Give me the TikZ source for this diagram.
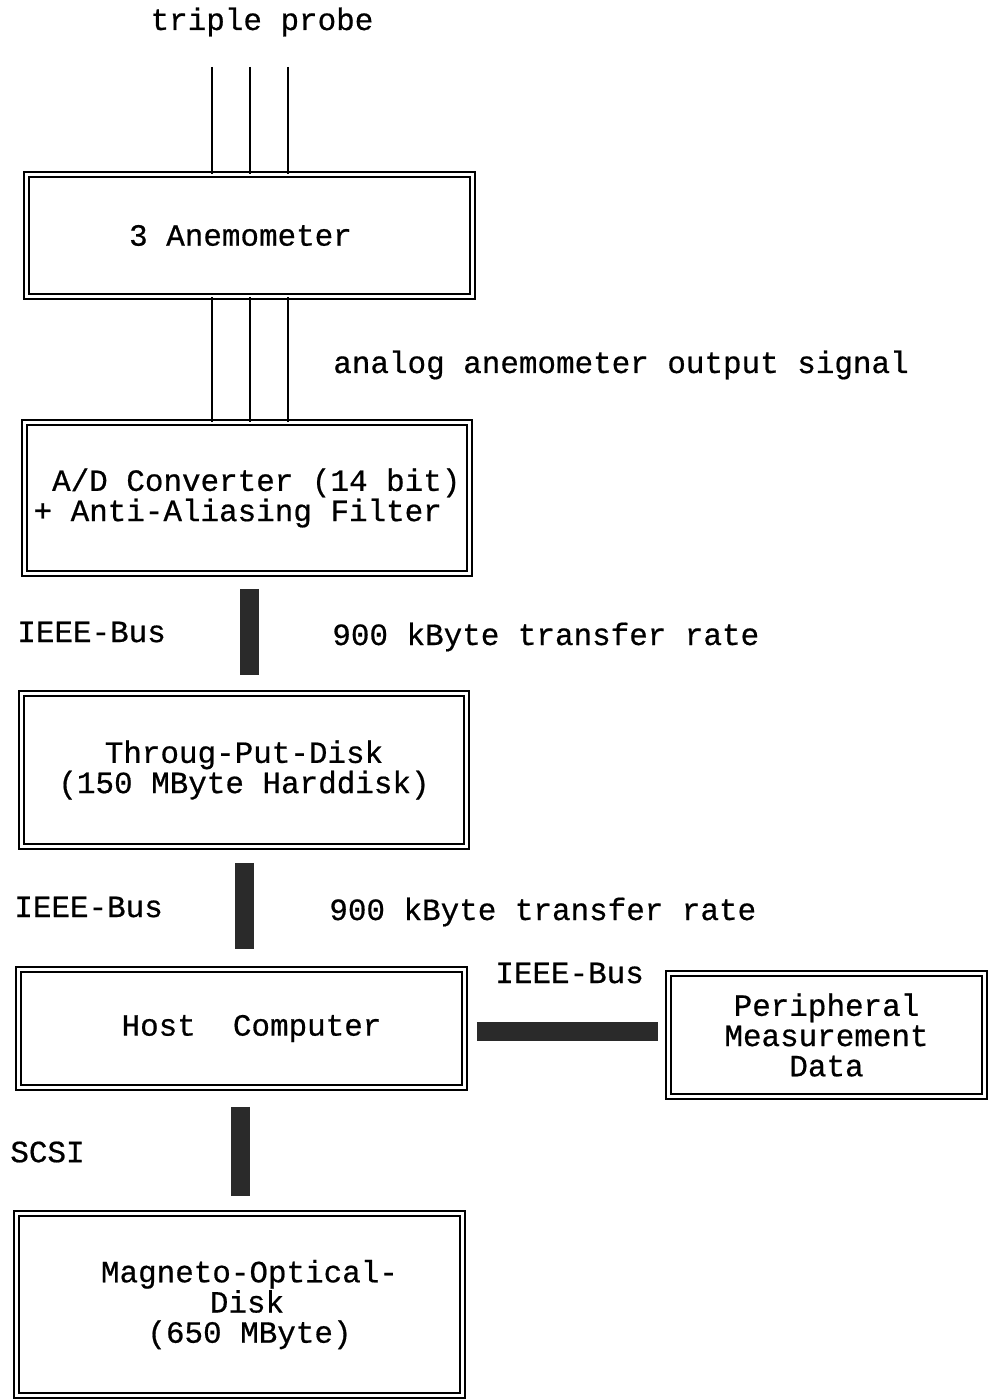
\documentclass[tikz,border=0pt]{standalone}
\usepackage{fontspec}
\setmainfont{Liberation Mono}[FakeBold=0.6]
\usepackage{tikz}
\usetikzlibrary{positioning}
\definecolor{buscolor}{HTML}{2a2a2a}

\begin{document}
\begin{tikzpicture}[
    x=1cm, y=1cm,
    every node/.style={font=\fontsize{17.6}{17.2}\selectfont, inner sep=0pt},
    unitbox/.style={rectangle, draw, line width=0.9pt,
                    double, double distance=1.8pt,
                    align=center},
    probeline/.style={line width=1.3pt},
    busline/.style={line width=0.38cm, buscolor, line cap=butt}
]
\useasboundingbox (0,0) rectangle (19.78,-27.98);

% boxes
\node[unitbox, minimum width=8.92cm, minimum height=2.44cm] (anem) at (4.99,-4.71)
    {3 Anemometer\hspace*{0.36cm}};
\node[unitbox, minimum width=8.90cm, minimum height=3.02cm, align=left] (adc) at (4.94,-9.96)
    {~A/D Converter (14 bit)\\+ Anti-Aliasing Filter};
\node[unitbox, minimum width=8.90cm, minimum height=3.06cm] (tpd) at (4.88,-15.40)
    {Throug-Put-Disk\\(150 MByte Harddisk)};
\node[unitbox, minimum width=8.92cm, minimum height=2.36cm] (host) at (4.83,-20.57)
    {\hspace*{0.4cm}Host~~Computer};
\node[unitbox, minimum width=6.32cm, minimum height=2.46cm] (periph) at (16.53,-20.70)
    {Peripheral\\Measurement\\Data};
\node[unitbox, minimum width=8.92cm, minimum height=3.64cm] (mod) at (4.79,-26.09)
    {\hspace*{0.4cm}Magneto-Optical-\\\hspace*{0.3cm}Disk\\\hspace*{0.4cm}(650 MByte)};

% probe wires
\coordinate (probe) at (5.00,-1.34);
\foreach \dx in {-0.76,0,0.76} {
    \draw[probeline] ([xshift=\dx cm]probe) -- ([xshift=\dx cm]probe |- anem.north);
    \draw[probeline] ([xshift=\dx cm]probe |- anem.south) -- ([xshift=\dx cm]probe |- adc.north);
}

% buses
\draw[busline, shorten <=0.29cm, shorten >=0.35cm] ([xshift=0.05cm]adc.south) -- ([xshift=0.05cm]adc.south |- tpd.north);
\draw[busline, shorten <=0.31cm, shorten >=0.39cm] ([xshift=0.01cm]tpd.south) -- ([xshift=0.01cm]tpd.south |- host.north);
\draw[busline, shorten <=0.37cm, shorten >=0.33cm] ([xshift=-0.02cm]host.south) -- ([xshift=-0.02cm]host.south |- mod.north);
\draw[busline, shorten <=0.23cm, shorten >=0.19cm] ([yshift=-0.05cm]host.east) -- ([yshift=-0.05cm]host.east -| periph.west);

% labels
\node (probelbl) at (5.24,-0.44) {triple probe};
\node[anchor=west] (analbl) at (6.66,-7.30) {analog anemometer output signal};
\node[anchor=west] (bus1) at (0.34,-12.64) {IEEE-Bus};
\node[anchor=west] (rate1) at (6.64,-12.74) {900 kByte transfer rate};
\node[anchor=west] (bus2) at (0.28,-18.14) {IEEE-Bus};
\node[anchor=west] (rate2) at (6.58,-18.24) {900 kByte transfer rate};
\node[anchor=west] (bus3) at (9.90,-19.46) {IEEE-Bus};
\node[anchor=west] (scsi) at (0.20,-23.04) {SCSI};
\end{tikzpicture}
\end{document}
